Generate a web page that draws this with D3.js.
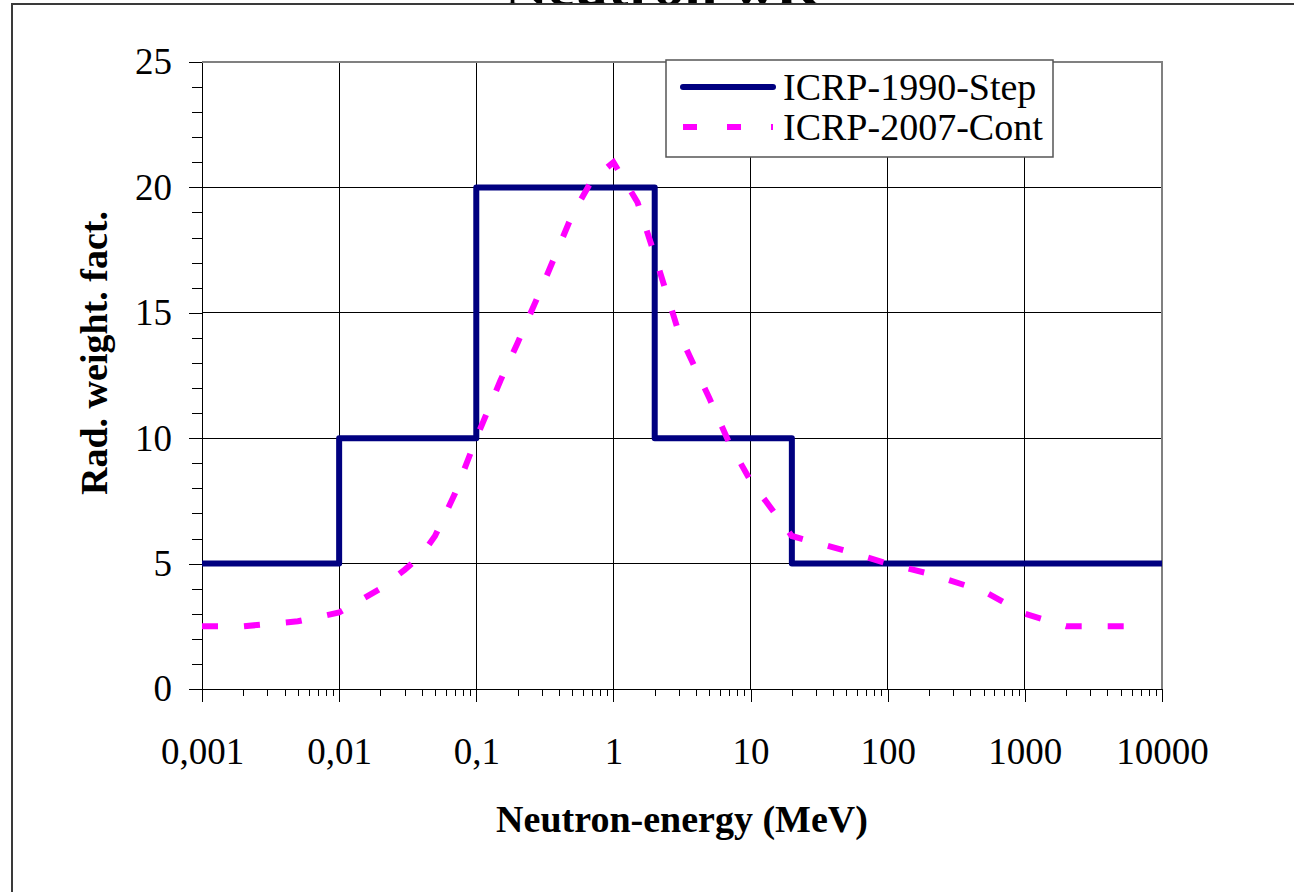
<!DOCTYPE html>
<html>
<head>
<meta charset="utf-8">
<script src="https://cdn.jsdelivr.net/npm/d3@7"></script>
<style>
  body { margin: 0; background: #fff; }
  svg { display: block; }
  svg text { font-family: "Liberation Serif", "Times New Roman", serif; fill: #000; }
  .axis text { font-size: 37px; }
  .axis path, .axis line { stroke: #000; shape-rendering: crispEdges; }
</style>
</head>
<body>
<script>
// Data
var energyStep = [0.001, 0.01, 0.1, 2, 20, 10000];
var wStep      = [5, 10, 20, 10, 5, 5];

var energyCont = [0.001, 0.002, 0.005, 0.01, 0.02, 0.03, 0.04, 0.05, 0.07, 0.1, 0.15, 0.2, 0.3, 0.5, 0.7, 1,
                  1.5, 2, 3, 5, 7, 10, 20, 50, 100, 200, 500, 1000, 2000, 7000];
var wCont      = [2.5, 2.5, 2.7, 3.05, 4.0, 4.75, 5.35, 6.1, 7.8, 10.0, 12.3, 13.8, 16.0, 18.9, 20.3, 21.0,
                  19.4, 17.3, 14.2, 11.6, 9.8, 8.3, 6.1, 5.5, 5.0, 4.6, 3.9, 3.0, 2.5, 2.5];

var xTicks      = [0.001, 0.01, 0.1, 1, 10, 100, 1000, 10000];
var xTickLabels = ["0,001", "0,01", "0,1", "1", "10", "100", "1000", "10000"];
var yTicks      = [0, 5, 10, 15, 20, 25];

var seriesNames = ["ICRP-1990-Step", "ICRP-2007-Cont"];

var W = 1294, H = 892;
var plot = {left: 202, right: 1162, top: 62, bottom: 689};

var svg = d3.select("body").append("svg")
    .attr("width", W)
    .attr("height", H);

// title, cut off at the top of the picture (only the bottom shows)
svg.append("text")
    .attr("x", 662).attr("y", 5)
    .attr("text-anchor", "middle")
    .attr("textLength", 315)
    .attr("lengthAdjust", "spacingAndGlyphs")
    .style("font-weight", "bold")
    .style("font-size", "44px")
    .text("Neutron wR");

// outer chart frame (runs off the right / bottom)
svg.append("rect")
    .attr("x", 12).attr("y", 4)
    .attr("width", W + 20).attr("height", H + 20)
    .attr("fill", "#fff")
    .attr("stroke", "#3a3a3a")
    .attr("stroke-width", 2);

var x = d3.scaleLog().domain([0.001, 10000]).range([plot.left, plot.right]);
var y = d3.scaleLinear().domain([0, 25]).range([plot.bottom, plot.top]);

// minor ticks
var xMinor = [];
xTicks.slice(0, -1).forEach(function(d) {
    for (var k = 2; k <= 9; k++) xMinor.push(d * k);
});
var yMinor = d3.range(0, 26).filter(function(d) { return d % 5 !== 0; });

// grid
svg.append("g")
    .selectAll("line.vg")
    .data(xTicks.slice(1, -1))
    .enter().append("line")
    .attr("x1", function(d) { return x(d); })
    .attr("x2", function(d) { return x(d); })
    .attr("y1", plot.top).attr("y2", plot.bottom)
    .attr("stroke", "#000").attr("stroke-width", 1)
    .attr("shape-rendering", "crispEdges");

svg.append("g")
    .selectAll("line.hg")
    .data(yTicks.slice(1, -1))
    .enter().append("line")
    .attr("x1", plot.left).attr("x2", plot.right)
    .attr("y1", function(d) { return y(d); })
    .attr("y2", function(d) { return y(d); })
    .attr("stroke", "#000").attr("stroke-width", 1)
    .attr("shape-rendering", "crispEdges");

// top and right border of the plot area
svg.append("path")
    .attr("d", "M" + plot.left + "," + plot.top + "H" + plot.right + "V" + plot.bottom)
    .attr("fill", "none")
    .attr("stroke", "#808080")
    .attr("stroke-width", 2);

// axes
svg.append("g")
    .attr("class", "axis")
    .attr("transform", "translate(0," + plot.bottom + ")")
    .call(d3.axisBottom(x).tickValues(xMinor).tickSize(7).tickSizeOuter(0).tickFormat(""));

svg.append("g")
    .attr("class", "axis")
    .attr("transform", "translate(0," + plot.bottom + ")")
    .call(d3.axisBottom(x).tickValues(xTicks).tickSize(13).tickSizeOuter(0).tickPadding(36)
        .tickFormat(function(d, i) { return xTickLabels[i]; }));

svg.append("g")
    .attr("class", "axis")
    .attr("transform", "translate(" + plot.left + ",0)")
    .call(d3.axisLeft(y).tickValues(yMinor).tickSize(10).tickSizeOuter(0).tickFormat(""));

svg.append("g")
    .attr("class", "axis")
    .attr("transform", "translate(" + plot.left + ",0)")
    .call(d3.axisLeft(y).tickValues(yTicks).tickSize(13).tickSizeOuter(0).tickPadding(17));

// series
var stepData = energyStep.map(function(e, i) { return [e, wStep[i]]; });
var contData = energyCont.map(function(e, i) { return [e, wCont[i]]; });

var stepLine = d3.line()
    .x(function(d) { return x(d[0]); })
    .y(function(d) { return y(d[1]); })
    .curve(d3.curveStepAfter);

var contLine = d3.line()
    .x(function(d) { return x(d[0]); })
    .y(function(d) { return y(d[1]); });

svg.append("path")
    .datum(stepData)
    .attr("d", stepLine)
    .attr("fill", "none")
    .attr("stroke", "#000080")
    .attr("stroke-width", 6)
    .attr("stroke-linejoin", "round");

svg.append("path")
    .datum(contData)
    .attr("d", contLine)
    .attr("fill", "none")
    .attr("stroke", "#ff00ff")
    .attr("stroke-width", 6)
    .attr("stroke-dasharray", "16,26");

// legend
var legend = svg.append("g");
legend.append("rect")
    .attr("x", 666).attr("y", 60)
    .attr("width", 387).attr("height", 97)
    .attr("fill", "#fff")
    .attr("stroke", "#555")
    .attr("stroke-width", 1.5);

legend.append("line")
    .attr("x1", 683).attr("x2", 773)
    .attr("y1", 87).attr("y2", 87)
    .attr("stroke", "#000080")
    .attr("stroke-width", 6)
    .attr("stroke-linecap", "round");

legend.append("line")
    .attr("x1", 683).attr("x2", 773)
    .attr("y1", 127).attr("y2", 127)
    .attr("stroke", "#ff00ff")
    .attr("stroke-width", 6)
    .attr("stroke-dasharray", "14,30");

legend.selectAll("text.lg")
    .data(seriesNames)
    .enter().append("text")
    .attr("x", 783)
    .attr("y", function(d, i) { return 100 + i * 40; })
    .style("font-size", "38px")
    .text(function(d) { return d; });

// axis titles
svg.append("text")
    .attr("x", 682).attr("y", 832)
    .attr("text-anchor", "middle")
    .style("font-weight", "bold")
    .style("font-size", "38px")
    .text("Neutron-energy (MeV)");

svg.append("text")
    .attr("transform", "translate(107,353) rotate(-90)")
    .attr("text-anchor", "middle")
    .style("font-weight", "bold")
    .style("font-size", "38px")
    .text("Rad. weight. fact.");
</script>
</body>
</html>
